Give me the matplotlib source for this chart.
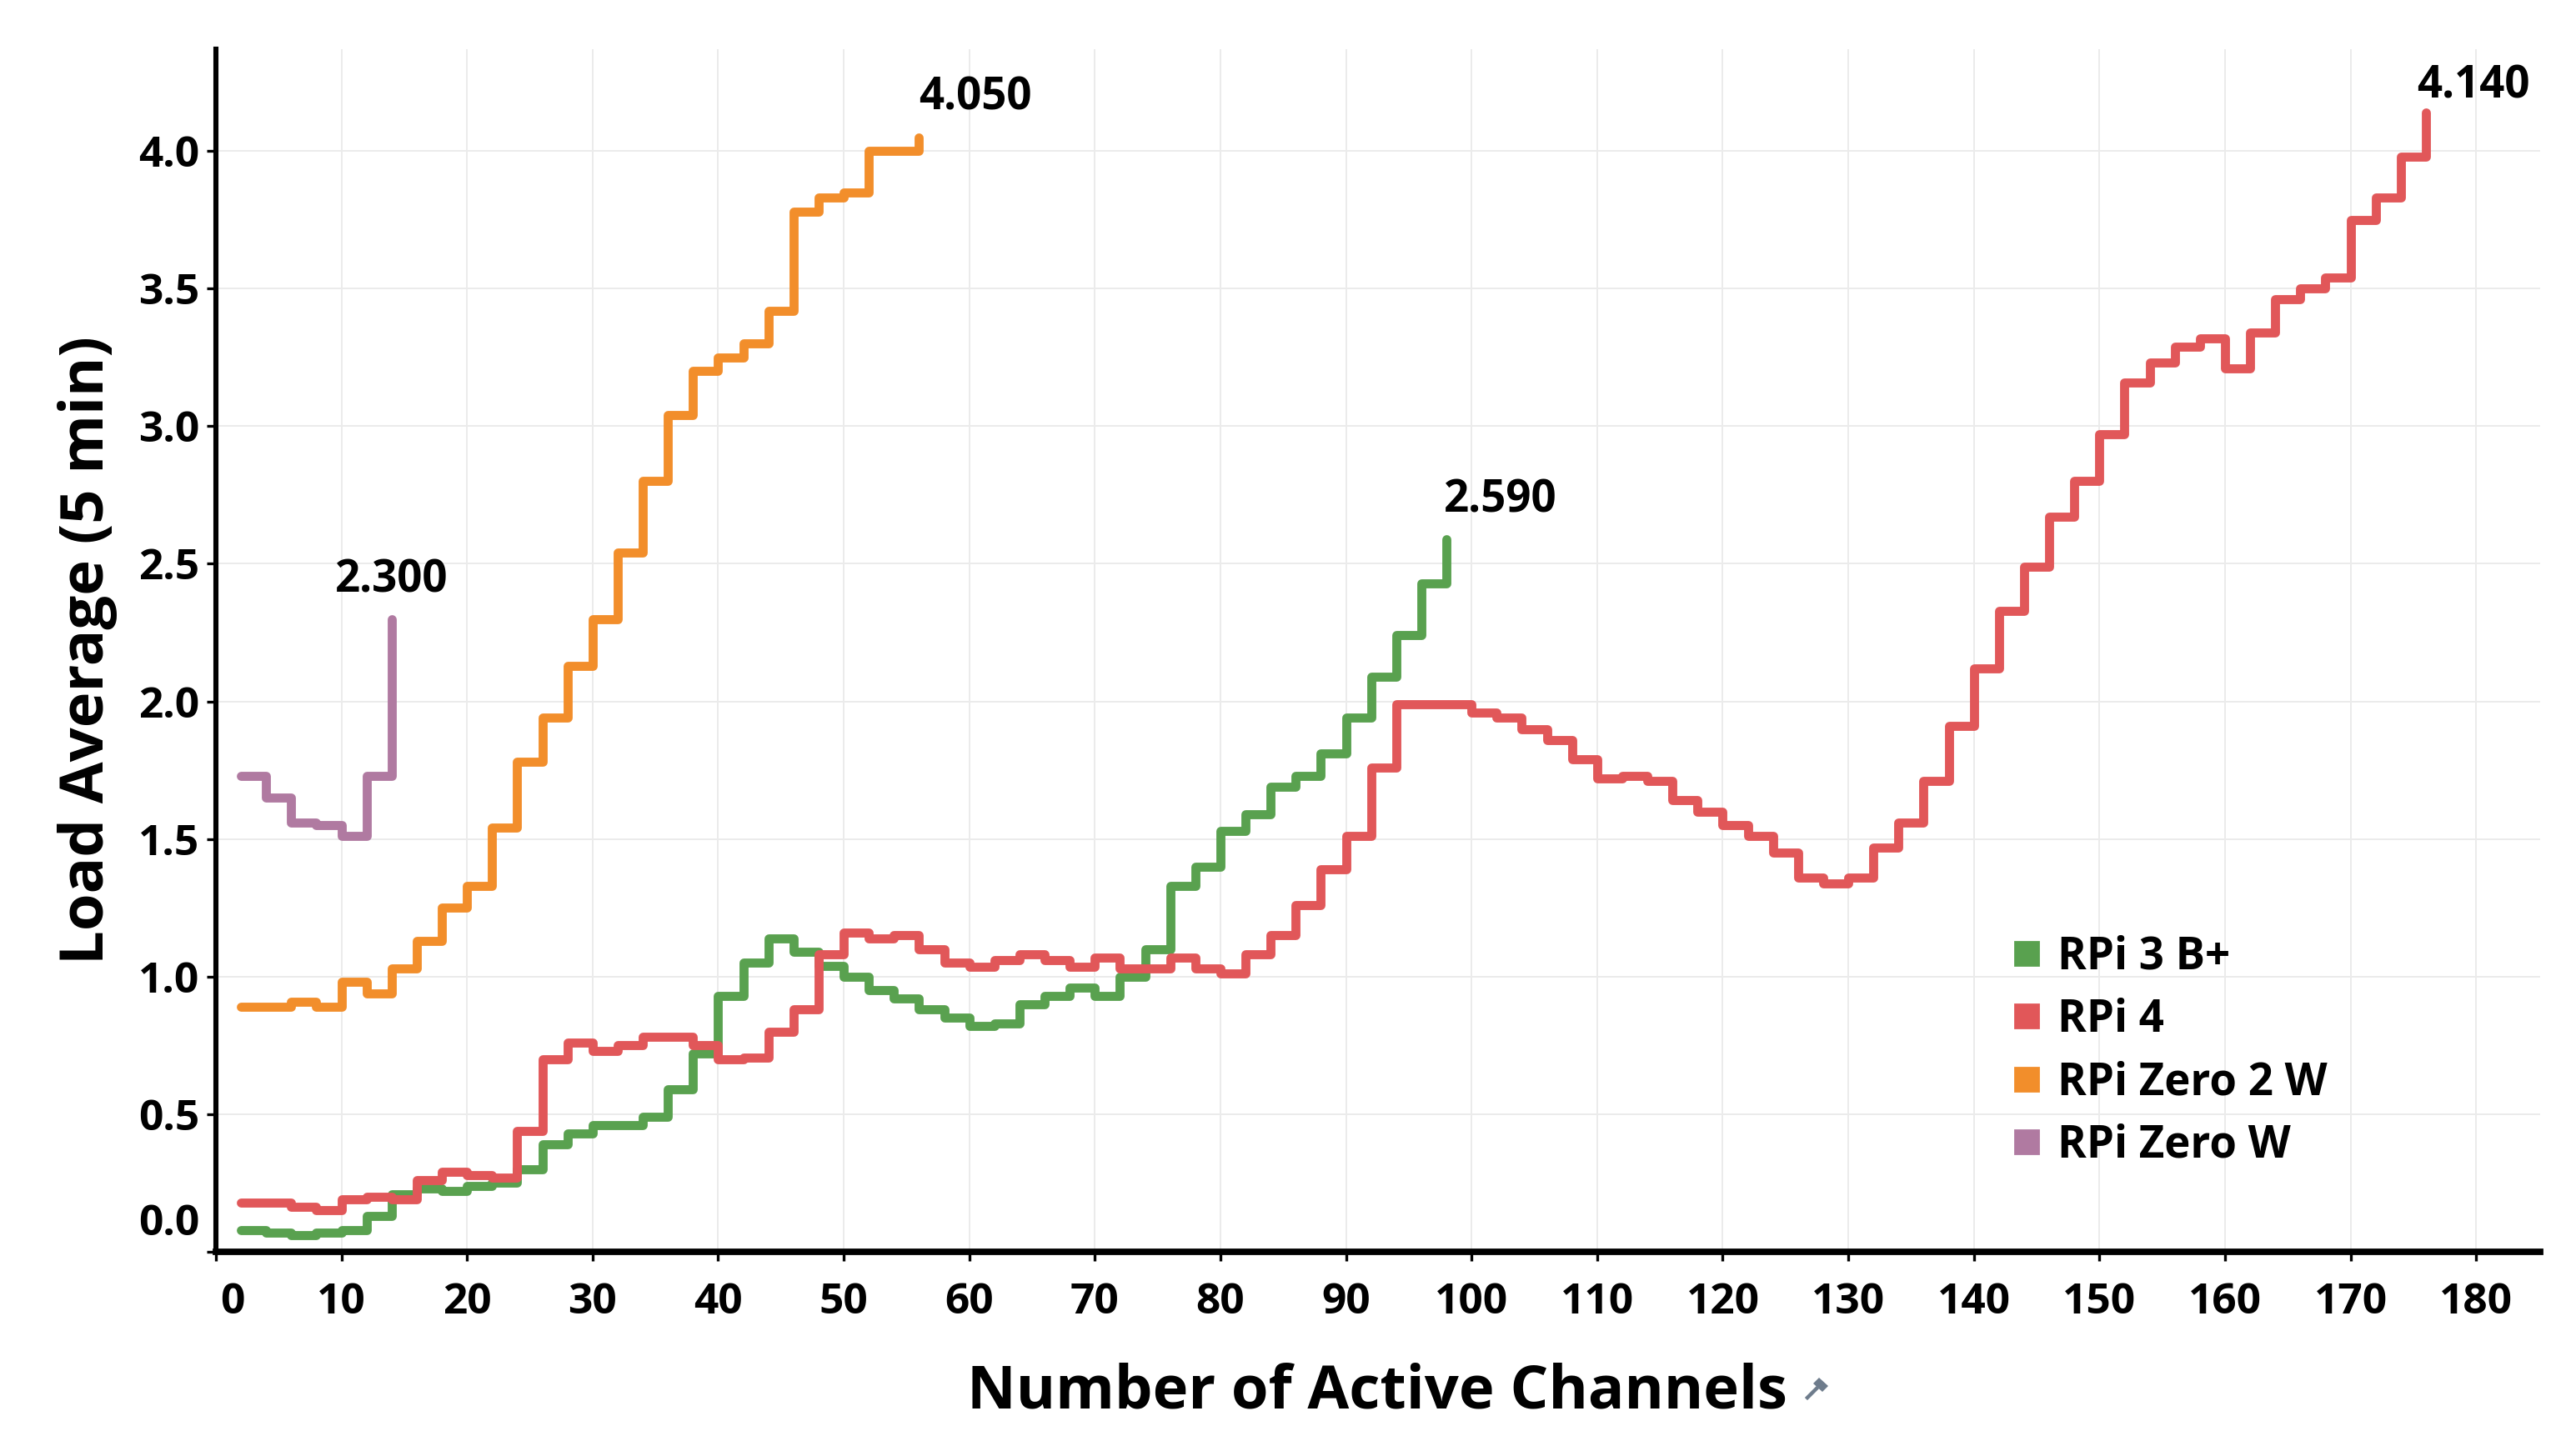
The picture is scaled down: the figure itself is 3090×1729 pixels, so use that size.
import matplotlib
matplotlib.use("Agg")
import matplotlib.pyplot as plt
from matplotlib.lines import Line2D
from matplotlib.patches import Polygon

# ---------------- data ----------------
rpi3_x = list(range(2, 100, 2))
rpi3_y = [0.08, 0.07, 0.06, 0.07, 0.08, 0.13, 0.21, 0.23, 0.22, 0.24,
          0.25, 0.30, 0.39, 0.43, 0.46, 0.46, 0.49, 0.59, 0.72, 0.93,
          1.05, 1.14, 1.09, 1.04, 1.00, 0.95, 0.92, 0.88, 0.85, 0.82,
          0.83, 0.90, 0.93, 0.96, 0.93, 1.00, 1.10, 1.33, 1.40, 1.53,
          1.59, 1.69, 1.73, 1.81, 1.94, 2.09, 2.24, 2.43, 2.59]

rpi4_x = list(range(2, 178, 2))
rpi4_y = [0.18, 0.18, 0.165, 0.15, 0.19, 0.20, 0.19, 0.26, 0.29, 0.28,
          0.27, 0.44, 0.70, 0.76, 0.73, 0.75, 0.78, 0.78, 0.75, 0.70,
          0.705, 0.80, 0.88, 1.08, 1.16, 1.14, 1.15, 1.10, 1.05, 1.035,
          1.06, 1.08, 1.06, 1.035, 1.07, 1.03, 1.03, 1.07, 1.03, 1.01,
          1.08, 1.15, 1.26, 1.39, 1.51, 1.76, 1.99, 1.99, 1.99, 1.96,
          1.94, 1.90, 1.86, 1.79, 1.72, 1.73, 1.71, 1.64, 1.60, 1.55,
          1.51, 1.45, 1.36, 1.34, 1.36, 1.47, 1.56, 1.71, 1.91, 2.12,
          2.33, 2.49, 2.67, 2.80, 2.97, 3.16, 3.23, 3.29, 3.32, 3.21,
          3.34, 3.46, 3.50, 3.54, 3.75, 3.83, 3.98, 4.14]

zero2_x = list(range(2, 58, 2))
zero2_y = [0.89, 0.89, 0.91, 0.89, 0.98, 0.94, 1.03, 1.13, 1.25, 1.33,
           1.54, 1.78, 1.94, 2.13, 2.30, 2.54, 2.80, 3.04, 3.20, 3.25,
           3.30, 3.42, 3.78, 3.83, 3.85, 4.00, 4.00, 4.05]

zero_x = list(range(2, 16, 2))
zero_y = [1.73, 1.65, 1.56, 1.55, 1.51, 1.73, 2.30]

series_names = ["RPi 3 B+", "RPi 4", "RPi Zero 2 W", "RPi Zero W"]
series_colors = ["#59A14F", "#E15759", "#F28E2B", "#B07AA1"]

x_ticks = list(range(0, 190, 10))
y_ticks = [0.0, 0.5, 1.0, 1.5, 2.0, 2.5, 3.0, 3.5, 4.0]

# ---------------- style ----------------
plt.rcParams['font.family'] = ['Open Sans', 'DejaVu Sans']
plt.rcParams['font.weight'] = 'bold'

W, H = 3090, 1729
fig = plt.figure(figsize=(W / 200, H / 200), dpi=200)
ax = fig.add_axes([259 / W, 1 - 1502 / H, (3047 - 259) / W, (1502 - 59) / H])

xs = [rpi3_x, rpi4_x, zero2_x, zero_x]
ys = [rpi3_y, rpi4_y, zero2_y, zero_y]
for x, y, c in zip(xs, ys, series_colors):
    ax.step(x, y, where='post', color=c, lw=3.9,
            solid_joinstyle='round', solid_capstyle='round', zorder=3)

ax.set_xlim(0, 185.1)
ax.set_ylim(0, 4.37)
ax.set_xticks(x_ticks)
ax.set_yticks(y_ticks)
ax.set_xticklabels([''] + [str(v) for v in x_ticks[1:]])
ax.set_yticklabels([''] + [f"{v:.1f}" for v in y_ticks[1:]])

ax.grid(True, color='#ebebeb', lw=0.7, zorder=0)
for s in ['top', 'right']:
    ax.spines[s].set_visible(False)
ax.spines['left'].set_color('black')
ax.spines['left'].set_linewidth(2.2)
ax.spines['bottom'].set_color('black')
ax.spines['bottom'].set_linewidth(2.8)
for s in ['left', 'bottom']:
    ax.spines[s].set_zorder(5)

ax.tick_params(axis='x', direction='out', length=4, width=1.2, labelsize=18.5, pad=9)
ax.tick_params(axis='y', direction='out', length=4, width=1.2, labelsize=18.5, pad=3)
for lab in ax.get_xticklabels() + ax.get_yticklabels():
    lab.set_fontweight('bold')

# shifted zero labels (as in the original)
ax.annotate('0', xy=(0, 0), xycoords=('data', 'axes fraction'),
            xytext=(7, -13), textcoords='offset points',
            ha='center', va='top', fontsize=18.5, fontweight='bold')
ax.annotate('0.0', xy=(0, 0), xycoords=('axes fraction', 'data'),
            xytext=(-7, 12), textcoords='offset points',
            ha='right', va='center', fontsize=18.5, fontweight='bold')

# end labels
ends = [(zero_x[-1], zero_y[-1], 'center', 0, 16.5),
        (zero2_x[-1], zero2_y[-1], 'left', 0, 17),
        (rpi3_x[-1], rpi3_y[-1], 'left', -1, 16.5),
        (rpi4_x[-1], rpi4_y[-1], 'left', -4, 11.5)]
for ex, ey, ha, dx, dy in ends:
    ax.annotate(f"{ey:.3f}", xy=(ex, ey), xytext=(dx, dy),
                textcoords='offset points', ha=ha, va='center',
                fontsize=19, fontweight='bold', annotation_clip=False)

# legend
handles = [Line2D([], [], ls='none', marker='s', markersize=10,
                  markerfacecolor=c, markeredgecolor=c) for c in series_colors]
leg = ax.legend(handles, series_names, loc='upper left',
                bbox_to_anchor=(0.7733, 0.264), frameon=False,
                fontsize=19, handlelength=0.6, handletextpad=0.4,
                labelspacing=0.41, borderpad=0, borderaxespad=0)
for t in leg.get_texts():
    t.set_fontweight('bold')

# axis titles
fig.text(105 / W, 1 - 780 / H, 'Load Average (5 min)', rotation=90,
         ha='center', va='center', fontsize=26, fontweight='bold')
fig.text(1652 / W, 1 - 1670 / H, 'Number of Active Channels',
         ha='center', va='center', fontsize=26, fontweight='bold')

# small pin icon after the axis title
cx, cy = 2180 / W, 1 - 1665 / H
sx, sy = 1 / W, 1 / H
pin_head = Polygon([(cx + 2 * sx, cy + 12 * sy), (cx + 13 * sx, cy + 2 * sy),
                    (cx + 6 * sx, cy - 5 * sy), (cx - 5 * sx, cy + 5 * sy)],
                   closed=True, transform=fig.transFigure,
                   facecolor='#6e7c8c', edgecolor='none')
fig.add_artist(pin_head)
fig.add_artist(Line2D([cx - 1 * sx, cx - 12 * sx], [cy - 1 * sy, cy - 12 * sy],
                      transform=fig.transFigure, color='#6e7c8c', lw=1.6))

fig.savefig('out.png', dpi=200)
